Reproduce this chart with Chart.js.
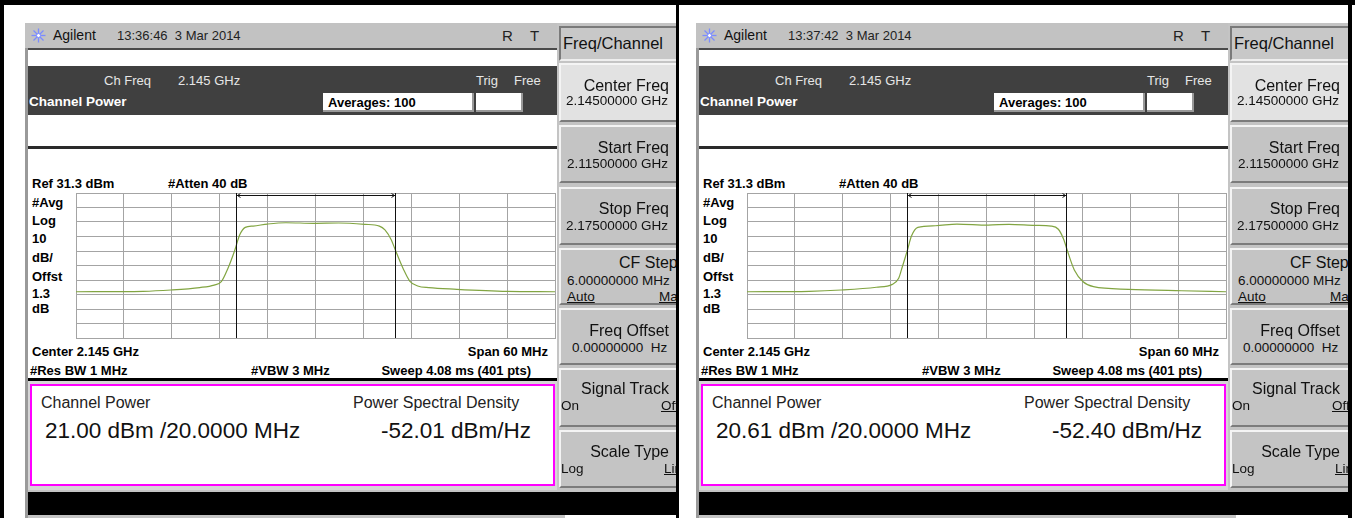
<!DOCTYPE html>
<html>
<head>
<meta charset="utf-8">
<title>Channel Power</title>
<script src="https://cdn.jsdelivr.net/npm/chart.js@4.4.1/dist/chart.umd.min.js"></script>
<style>
  html, body { margin: 0; padding: 0; background: #fff; }
  #page { position: relative; width: 1355px; height: 518px; overflow: hidden;
          font-family: "Liberation Sans", Arial, sans-serif; }
  .abs { position: absolute; box-sizing: border-box; }
  .t { position: absolute; white-space: pre; line-height: 1; }
  .key { position: absolute; left: 559px; width: 140px; box-sizing: border-box;
         border-top: 2px solid #f4f4f4; border-left: 2px solid #f4f4f4;
         border-bottom: 2px solid #7c7c7c; background: #c4c4c4; }
</style>
</head>
<body>
<div id="page"></div>
<script>
// values
const refLevel = 31.3;          // dBm at top graticule
const dbPerDiv = 10;
const spanMHz = 60;
const markerOffsets = [-10, 10];  // integration bandwidth edges, MHz from center

// trace 1 (13:36:46), x = MHz from 2.145 GHz, y = dBm
const freqLeft = [-30, -21.6, -18.1, -14.5, -12.7, -11.8, -11.0, -10.1, -9.5, -8.8, -7.8, -6.0, -3.7, -0.2,
  2.9, 6.2, 8.0, 8.7, 9.5, 10.0, 11.0, 11.8, 12.8, 14.2, 17.7, 24.0, 30];
const levelLeft = [-36.8, -36.5, -35.6, -33.9, -32.2, -29.9, -21.1, -8.0, 2.3, 7.6, 8.5, 9.9, 10.8, 10.4,
  10.6, 9.7, 8.5, 5.8, -1.1, -8.0, -21.1, -29.4, -32.8, -34.0, -35.1, -36.5, -36.8];

// trace 2 (13:37:42)
const freqRight = [-30, -22.2, -18.2, -13.8, -11.8, -11.0, -10.6, -9.9, -9.4, -8.6, -6.4, -3.7, 0.2, 2.8,
  6.1, 8.1, 9.0, 9.7, 10.1, 11.0, 12.1, 13.4, 17.8, 24.4, 30];
const levelRight = [-36.8, -36.5, -35.6, -33.7, -31.7, -27.5, -20.6, -8.0, 1.6, 7.6, 8.7, 9.9, 9.2, 9.7,
  9.0, 8.5, 6.3, -1.1, -8.0, -21.8, -29.9, -33.3, -35.1, -36.1, -36.8];

const timestamps = ['13:36:46  3 Mar 2014', '13:37:42  3 Mar 2014'];
const chanPower = ['21.00', '20.61'];
const psdValues = ['-52.01', '-52.40'];
const sideLabels = ['#Avg', 'Log', '10', 'dB/', 'Offst', '1.3', 'dB'];
const yGridLevels = Array.from({ length: 11 }, (_, i) => +(refLevel - i * dbPerDiv).toFixed(1));
const xGridOffsets = Array.from({ length: 11 }, (_, i) => -spanMHz / 2 + i * spanMHz / 10);

const page = document.getElementById('page');

function box(parent, x, y, w, h, css) {
  const d = document.createElement('div');
  d.className = 'abs';
  d.style.cssText += `left:${x}px;top:${y}px;width:${w}px;height:${h}px;` + (css || '');
  parent.appendChild(d);
  return d;
}

// text with its vertical centre at cy; align 'r' means x is the right edge
function text(parent, str, x, cy, size, css, align) {
  const d = document.createElement('div');
  d.className = 't';
  d.textContent = str;
  let pos = `top:${(cy - size * 0.5).toFixed(1)}px;font-size:${size}px;`;
  if (align === 'r') pos += `left:${x - 400}px;width:400px;text-align:right;`;
  else pos += `left:${x}px;`;
  d.style.cssText += pos + (css || '');
  parent.appendChild(d);
  return d;
}

const markerPlugin = {
  id: 'markers',
  afterDatasetsDraw(chart) {
    const { ctx, chartArea: a, scales: { x } } = chart;
    const xl = Math.round(x.getPixelForValue(markerOffsets[0])) + 0.5;
    const xr = Math.round(x.getPixelForValue(markerOffsets[1])) + 0.5;
    const ay = a.top + 2.5;
    ctx.save();
    ctx.strokeStyle = '#111';
    ctx.lineWidth = 1;
    ctx.beginPath();
    ctx.moveTo(xl, a.top); ctx.lineTo(xl, a.bottom);
    ctx.moveTo(xr, a.top); ctx.lineTo(xr, a.bottom);
    ctx.moveTo(xl, ay); ctx.lineTo(xr, ay);
    ctx.moveTo(xl + 4, ay - 2); ctx.lineTo(xl + 1, ay); ctx.lineTo(xl + 4, ay + 2);
    ctx.moveTo(xr - 4, ay - 2); ctx.lineTo(xr - 1, ay); ctx.lineTo(xr - 4, ay + 2);
    ctx.stroke();
    ctx.restore();
  }
};

function makeChart(canvas, freqs, levels) {
  const gridColor = '#a4a4a4';
  return new Chart(canvas, {
    type: 'line',
    data: {
      datasets: [{
        data: freqs.map((f, i) => ({ x: f, y: levels[i] })),
        borderColor: '#82a542',
        borderWidth: 1.2,
        pointRadius: 0,
        cubicInterpolationMode: 'monotone',
        fill: false
      }]
    },
    options: {
      responsive: false,
      animation: false,
      devicePixelRatio: 1,
      layout: { padding: { left: 4, top: 4, right: 5, bottom: 4 } },
      plugins: { legend: { display: false }, tooltip: { enabled: false } },
      scales: {
        x: {
          type: 'linear', min: -spanMHz / 2, max: spanMHz / 2,
          ticks: { display: false },
          afterBuildTicks: s => { s.ticks = xGridOffsets.map(v => ({ value: v })); },
          afterFit: s => { s.height = 0; },
          grid: { color: gridColor, drawTicks: false },
          border: { color: gridColor }
        },
        y: {
          type: 'linear', min: refLevel - 10 * dbPerDiv, max: refLevel,
          ticks: { display: false },
          afterBuildTicks: s => { s.ticks = yGridLevels.map(v => ({ value: v })); },
          afterFit: s => { s.width = 0; },
          grid: { color: gridColor, drawTicks: false },
          border: { color: gridColor }
        }
      }
    },
    plugins: [markerPlugin]
  });
}

const logoSvg = '<svg width="15" height="15" viewBox="0 0 15 15"><g stroke="#7b8cff" stroke-width="1.3">' +
  '<line x1="7.5" y1="0.5" x2="7.5" y2="14.5"/><line x1="0.5" y1="7.5" x2="14.5" y2="7.5"/>' +
  '<line x1="2.5" y1="2.5" x2="12.5" y2="12.5"/><line x1="12.5" y1="2.5" x2="2.5" y2="12.5"/></g>' +
  '<circle cx="7.5" cy="7.5" r="2" fill="#fff" stroke="#7b8cff"/></svg>';

const softkeys = [
  { top: 63, h: 59, bg: '#e2e2e2', label: 'Center Freq', ly: 86, sub: '2.14500000 GHz', sy: 101 },
  { top: 125, h: 58, label: 'Start Freq', ly: 148, sub: '2.11500000 GHz', sy: 164 },
  { top: 187, h: 58, label: 'Stop Freq', ly: 209, sub: '2.17500000 GHz', sy: 226 },
  { top: 248, h: 57, label: 'CF Step', ly: 263, sub: '6.00000000 MHz', sy: 281, subLeft: 567 },
  { top: 308, h: 57, label: 'Freq Offset', ly: 331, sub: '0.00000000  Hz', sy: 348, subLeft: 572 },
  { top: 368, h: 59, label: 'Signal Track', ly: 389 },
  { top: 430, h: 58, label: 'Scale Type', ly: 452 }
];

function buildPanel(idx, clipLeft, clipWidth, shift) {
  const clip = box(page, clipLeft, 0, clipWidth, 518, 'overflow:hidden;');
  const p = box(clip, -shift, 0, 700, 518);

  // screen frame
  box(p, 25, 23, 540, 495, 'background:#c4c4c4;');
  box(p, 25, 48, 3, 470, 'background:#9a9a9a;');

  // title bar
  box(p, 25, 23, 532, 25, 'background:#c2c2c2;');
  const lg = box(p, 31, 28, 15, 15);
  lg.innerHTML = logoSvg;
  text(p, 'Agilent', 53, 35, 14, 'color:#111;');
  text(p, timestamps[idx], 117, 35, 13, 'color:#222;');
  text(p, 'R', 502, 35, 15, 'color:#222;');
  text(p, 'T', 530, 35, 15, 'color:#222;');

  box(p, 28, 48, 529, 2, 'background:#4a4a4a;');
  box(p, 28, 50, 529, 16, 'background:#fff;');

  // dark status band
  box(p, 28, 66, 529, 49, 'background:#404040;');
  text(p, 'Ch Freq', 104, 80, 13, 'color:#e6e6e6;');
  text(p, '2.145 GHz', 178, 80, 13, 'color:#e6e6e6;');
  text(p, 'Trig', 476, 80, 13, 'color:#e6e6e6;');
  text(p, 'Free', 514, 80, 13, 'color:#e6e6e6;');
  text(p, 'Channel Power', 29, 102, 13.5, 'color:#fff;font-weight:bold;');
  box(p, 323, 93, 151, 19, 'background:#fff;border-right:2px solid #999;border-bottom:2px solid #999;');
  text(p, 'Averages: 100', 328, 102, 13, 'color:#000;font-weight:bold;');
  box(p, 476, 93, 47, 19, 'background:#fff;border-right:2px solid #999;border-bottom:2px solid #999;');

  box(p, 28, 115, 529, 32, 'background:#fff;');
  box(p, 28, 146, 529, 3, 'background:#2a2a2a;');

  // graticule area
  box(p, 28, 149, 529, 229, 'background:#fff;');
  const bold = 'color:#000;font-weight:bold;';
  text(p, 'Ref 31.3 dBm', 32, 183, 13, bold);
  text(p, '#Atten 40 dB', 168, 183, 13, bold);
  const sideY = [202, 220, 238, 257, 276, 293, 308];
  sideLabels.forEach((s, i) => text(p, s, 32, sideY[i], 13, bold));
  text(p, 'Center 2.145 GHz', 32, 351, 13, bold);
  text(p, 'Span 60 MHz', 548, 351, 13, bold, 'r');
  text(p, '#Res BW 1 MHz', 30, 370, 13, bold);
  text(p, '#VBW 3 MHz', 251, 370, 13, bold);
  text(p, 'Sweep 4.08 ms (401 pts)', 531, 370, 13, bold, 'r');

  const canvas = document.createElement('canvas');
  canvas.width = 488;
  canvas.height = 153;
  canvas.style.cssText = 'position:absolute;left:72px;top:189px;width:488px;height:153px;';
  p.appendChild(canvas);
  makeChart(canvas, idx === 0 ? freqLeft : freqRight, idx === 0 ? levelLeft : levelRight);

  box(p, 28, 378, 529, 3, 'background:#000;');

  // results window
  box(p, 28, 381, 529, 109, 'background:#d6d6d6;');
  box(p, 30, 384, 525, 102, 'background:#fff;border:2px solid #ff00ff;');
  text(p, 'Channel Power', 41, 403, 16, 'color:#222;');
  text(p, 'Power Spectral Density', 353, 403, 16, 'color:#222;');
  text(p, chanPower[idx] + ' dBm /20.0000 MHz', 45, 431, 22.5, 'color:#111;');
  text(p, psdValues[idx] + ' dBm/Hz', 531, 431, 22.5, 'color:#111;', 'r');

  box(p, 28, 492, 680, 23, 'background:#000;');

  // softkey column
  box(p, 557, 23, 150, 469, 'background:#c4c4c4;');
  box(p, 559, 26, 140, 35, 'background:#c8c8c8;border-top:2px solid #7a7a7a;border-left:2px solid #7a7a7a;border-bottom:2px solid #eee;');
  text(p, 'Freq/Channel', 563, 43, 16.5, 'color:#111;');
  softkeys.forEach(k => {
    const b = document.createElement('div');
    b.className = 'key';
    b.style.top = k.top + 'px';
    b.style.height = k.h + 'px';
    if (k.bg) b.style.background = k.bg;
    p.appendChild(b);
    if (k.label === 'CF Step') text(p, k.label, 619, k.ly, 16, 'color:#111;');
    else text(p, k.label, 669, k.ly, 16, 'color:#111;', 'r');
    if (k.sub) {
      if (k.subLeft) text(p, k.sub, k.subLeft, k.sy, 13.5, 'color:#111;');
      else text(p, k.sub, 668, k.sy, 13.5, 'color:#111;', 'r');
    }
  });
  const ul = 'color:#111;text-decoration:underline;';
  text(p, 'Auto', 567, 297, 13.5, ul);
  text(p, 'Man', 659, 297, 13.5, ul);
  text(p, 'On', 561, 406, 13.5, 'color:#111;');
  text(p, 'Off', 661, 406, 13.5, ul);
  text(p, 'Log', 561, 469, 13.5, 'color:#111;');
  text(p, 'Lin', 664, 469, 13.5, ul);
}

buildPanel(0, 0, 676, 0);
buildPanel(1, 679, 669, 8);

// outer frame lines
box(page, 0, 0, 1355, 5, 'background:#000;');
box(page, 0, 0, 4, 518, 'background:#000;');
box(page, 676, 0, 3, 518, 'background:#000;');
box(page, 1348, 0, 4, 518, 'background:#000;');
</script>
</body>
</html>
